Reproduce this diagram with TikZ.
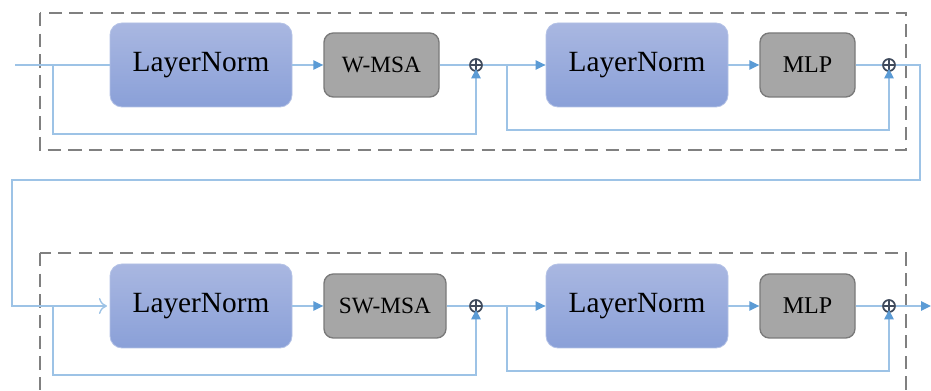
\documentclass[tikz,border=0pt]{standalone}
\usepackage{fontspec}
\setmainfont{Liberation Serif}
\usetikzlibrary{arrows.meta}
\definecolor{lnTop}{HTML}{A9B7E1}
\definecolor{lnBot}{HTML}{8AA0D8}
\definecolor{lnEdge}{HTML}{B4C2E6}
\definecolor{gFill}{HTML}{A6A6A6}
\definecolor{gEdge}{HTML}{7A7A7A}
\definecolor{wire}{HTML}{9DC3E6}
\definecolor{tip}{HTML}{5B9BD5}
\definecolor{plusc}{HTML}{3F4A5C}
\definecolor{dashc}{HTML}{808080}
\tikzset{
  lnbox/.style={rectangle, rounded corners=9pt, draw=lnEdge, line width=0.6pt,
    top color=lnTop, bottom color=lnBot, minimum width=136.5pt, minimum height=63pt,
    font=\fontsize{22}{25}\selectfont, inner sep=0pt},
  gbox/.style={rectangle, rounded corners=7pt, draw=gEdge, line width=1pt,
    fill=gFill, minimum height=48pt, inner sep=0pt},
  plusnode/.style={circle, draw=plusc, line width=1.3pt, minimum size=9pt, inner sep=0pt,
    path picture={\draw[plusc, line width=1.3pt]
      (path picture bounding box.north) -- (path picture bounding box.south)
      (path picture bounding box.west) -- (path picture bounding box.east);}},
  wireline/.style={draw=wire, line width=1.1pt},
  arr/.style={wireline, -{Triangle[length=7.5pt, width=7pt, color=tip]}},
  uparr/.style={wireline, -{Triangle[length=7pt, width=7pt, color=tip]}},
  openarr/.style={wireline, -{To[length=6pt, width=12pt, line width=1pt]}},
  dashbox/.style={draw=dashc, line width=1.5pt, dash pattern=on 10pt off 5.5pt},
}
\begin{document}
\begin{tikzpicture}[x=0.75pt, y=-0.75pt]
\useasboundingbox (0,0) rectangle (931,391);
\clip (0,0) rectangle (931,391);
\fill[white] (0,0) rectangle (931,391);

% dashed frames
\draw[dashbox] (40,13) rectangle (906,150);
\draw[dashbox] (40,253) rectangle (906,405);

% top row
\node[lnbox] (ln1) at (201,65) {LayerNorm};
\node[gbox, minimum width=86.25pt, font=\fontsize{17.5}{20}\selectfont] (wmsa) at (381.5,65) {W-MSA};
\node[plusnode] (p1) at (476,65) {};
\node[lnbox] (ln2) at (637,65) {LayerNorm};
\node[gbox, minimum width=71.25pt, font=\fontsize{18}{21}\selectfont] (mlp1) at (807.5,65) {MLP};
\node[plusnode] (p2) at (889,65) {};

% bottom row
\node[lnbox] (ln3) at (201,306) {LayerNorm};
\node[gbox, minimum width=91.5pt, font=\fontsize{17.5}{20}\selectfont] (swmsa) at (385,306) {SW-MSA};
\node[plusnode] (p3) at (476,306) {};
\node[lnbox] (ln4) at (637,306) {LayerNorm};
\node[gbox, minimum width=71.25pt, font=\fontsize{18}{21}\selectfont] (mlp2) at (807.5,306) {MLP};
\node[plusnode] (p4) at (889,306) {};

% coordinates
\coordinate (in) at (15,65);
\coordinate (b1) at (53,65);
\coordinate (b1d) at (53,134);
\coordinate (b2) at (507,65);
\coordinate (b2d) at (507,130);
\coordinate (w1) at (920,65);
\coordinate (w2) at (920,180);
\coordinate (w3) at (12,180);
\coordinate (w4) at (12,306);
\coordinate (b3) at (53,306);
\coordinate (b3d) at (53,375);
\coordinate (b4) at (507,306);
\coordinate (b4d) at (507,371);
\coordinate (out) at (931,306);

% top connectors
\draw[wireline] (in) -- (ln1.west);
\draw[arr] (ln1.east) -- (wmsa.west);
\draw[wireline] (wmsa.east) -- (p1.west);
\draw[uparr] (b1) -- (b1d) -| ([yshift=2.2pt]p1.south);
\draw[arr] (p1.east) -- (ln2.west);
\draw[arr] (ln2.east) -- (mlp1.west);
\draw[wireline] (mlp1.east) -- (p2.west);
\draw[uparr] (b2) -- (b2d) -| ([yshift=2.2pt]p2.south);
\draw[openarr] (p2.east) -- (w1) -- (w2) -- (w3) -- (w4) -- ([xshift=-2pt]ln3.west);

% bottom connectors
\draw[arr] (ln3.east) -- (swmsa.west);
\draw[wireline] (swmsa.east) -- (p3.west);
\draw[uparr] (b3) -- (b3d) -| ([yshift=2.2pt]p3.south);
\draw[arr] (p3.east) -- (ln4.west);
\draw[arr] (ln4.east) -- (mlp2.west);
\draw[wireline] (mlp2.east) -- (p4.west);
\draw[uparr] (b4) -- (b4d) -| ([yshift=2.2pt]p4.south);
\draw[arr] (p4.east) -- (out);
\end{tikzpicture}
\end{document}
